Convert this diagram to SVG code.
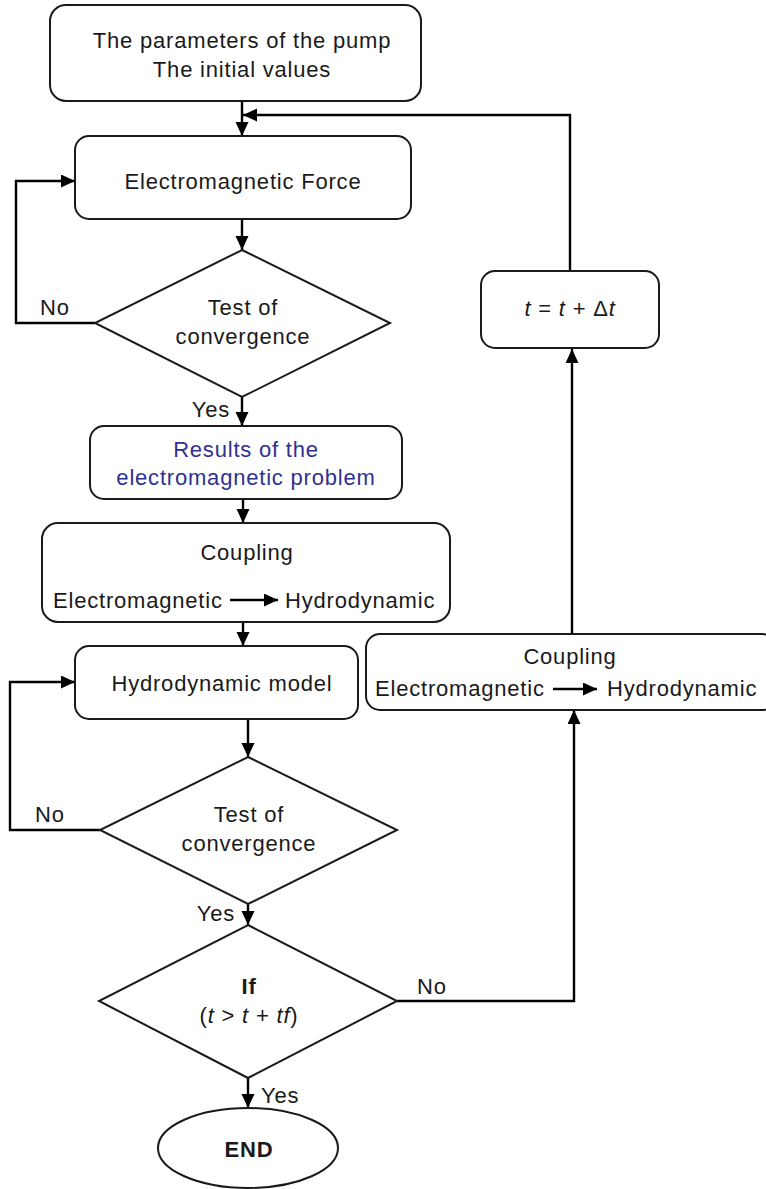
<svg xmlns="http://www.w3.org/2000/svg" width="766" height="1189" viewBox="0 0 766 1189">
<style>
.box{fill:#fff;stroke:#1a1a1a;stroke-width:2}
.ln{fill:none;stroke:#000;stroke-width:2.4}
text{font-family:"Liberation Sans",Arial,sans-serif;font-size:22px;letter-spacing:0.8px;fill:#1a1a1a}
.c{text-anchor:middle}
.blue{fill:#2e3192}
.b{font-weight:bold}
.i{font-style:italic}
</style>
<defs>
<marker id="ah" markerUnits="userSpaceOnUse" markerWidth="14" markerHeight="14" refX="14" refY="6.5" orient="auto">
<path d="M0,0 L14,6.5 L0,13 z" fill="#000"/>
</marker>
</defs>
<g id="connectors">
<line class="ln" x1="242" y1="101" x2="242" y2="136" marker-end="url(#ah)"/>
<polyline class="ln" points="570,271 570,115 243,115" marker-end="url(#ah)"/>
<polyline class="ln" points="95,323 16,323 16,181 75,181" marker-end="url(#ah)"/>
<line class="ln" x1="242" y1="219" x2="242" y2="250" marker-end="url(#ah)"/>
<line class="ln" x1="242" y1="397" x2="242" y2="426" marker-end="url(#ah)"/>
<line class="ln" x1="243" y1="499" x2="243" y2="523" marker-end="url(#ah)"/>
<line class="ln" x1="243" y1="622" x2="243" y2="646" marker-end="url(#ah)"/>
<polyline class="ln" points="100,830 10,830 10,682 75,682" marker-end="url(#ah)"/>
<line class="ln" x1="248" y1="719" x2="248" y2="757" marker-end="url(#ah)"/>
<line class="ln" x1="248" y1="904" x2="248" y2="925" marker-end="url(#ah)"/>
<line class="ln" x1="248" y1="1078" x2="248" y2="1108" marker-end="url(#ah)"/>
<polyline class="ln" points="397,1001 574,1001 574,710" marker-end="url(#ah)"/>
<line class="ln" x1="572" y1="634" x2="572" y2="349" marker-end="url(#ah)"/>
<text x="40" y="315">No</text>
<text x="230" y="417" text-anchor="end">Yes</text>
<text x="35" y="822">No</text>
<text x="235" y="921" text-anchor="end">Yes</text>
<text x="417" y="994">No</text>
<text x="261" y="1103">Yes</text>
</g>
<g id="start">
<rect class="box" x="50" y="5" width="371" height="96" rx="16"/>
<text class="c" x="242" y="48">The parameters of the pump</text>
<text class="c" x="242" y="77">The initial values</text>
</g>
<g id="emforce">
<rect class="box" x="75" y="136" width="336" height="83" rx="14"/>
<text class="c" x="243" y="189">Electromagnetic Force</text>
</g>
<g id="test1">
<polygon class="box" points="242,250 390,323 242,397 95,323"/>
<text class="c" x="243" y="315">Test of</text>
<text class="c" x="243" y="344">convergence</text>
</g>
<g id="results">
<rect class="box" x="90" y="426" width="312" height="73" rx="14"/>
<text class="c blue" x="246" y="457">Results of the</text>
<text class="c blue" x="246" y="485">electromagnetic problem</text>
</g>
<g id="coupling1">
<rect class="box" x="42" y="523" width="408" height="99" rx="16"/>
<text class="c" x="247" y="560">Coupling</text>
<text x="53" y="608">Electromagnetic</text>
<line class="ln" x1="230" y1="600" x2="278" y2="600" marker-end="url(#ah)"/>
<text x="285" y="608">Hydrodynamic</text>
</g>
<g id="hydro">
<rect class="box" x="75" y="646" width="283" height="73" rx="14"/>
<text class="c" x="222" y="691">Hydrodynamic model</text>
</g>
<g id="test2">
<polygon class="box" points="248,757 397,830 248,904 100,830"/>
<text class="c" x="249" y="822">Test of</text>
<text class="c" x="249" y="851">convergence</text>
</g>
<g id="ifnode">
<polygon class="box" points="248,925 397,1001 248,1078 99,1001"/>
<text class="c b" x="249" y="994">If</text>
<text class="c" x="249" y="1023">(<tspan class="i">t</tspan> &gt; <tspan class="i">t</tspan> + <tspan class="i">tf</tspan>)</text>
</g>
<g id="end">
<ellipse class="box" cx="248" cy="1148" rx="90" ry="40"/>
<text class="c b" x="249" y="1157">END</text>
</g>
<g id="coupling2">
<rect class="box" x="366" y="634" width="410" height="76" rx="14"/>
<text class="c" x="570" y="664">Coupling</text>
<text x="375" y="696">Electromagnetic</text>
<line class="ln" x1="553" y1="689" x2="597" y2="689" marker-end="url(#ah)"/>
<text x="607" y="696">Hydrodynamic</text>
</g>
<g id="timestep">
<rect class="box" x="481" y="271" width="178" height="77" rx="14"/>
<text class="c" x="570" y="316"><tspan class="i">t</tspan> = <tspan class="i">t</tspan> + Δ<tspan class="i">t</tspan></text>
</g>
</svg>
